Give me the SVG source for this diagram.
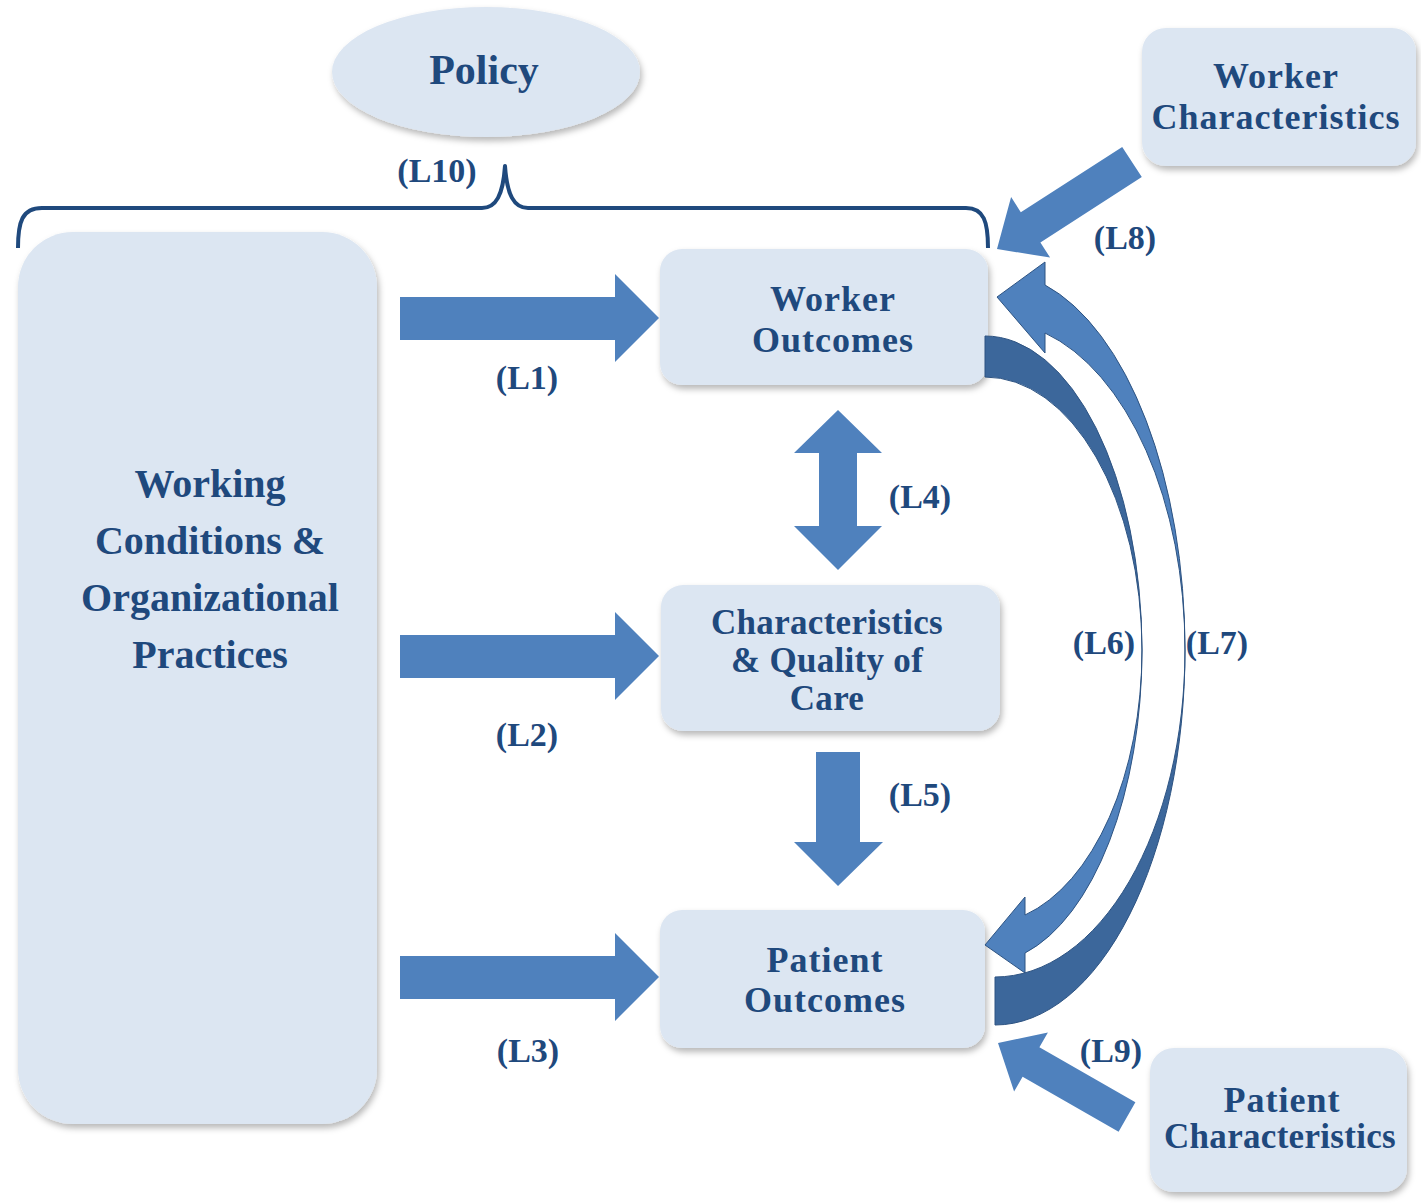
<svg xmlns="http://www.w3.org/2000/svg" width="1421" height="1203" viewBox="0 0 1421 1203">
<defs>
<filter id="sh" x="-10%" y="-10%" width="125%" height="125%">
<feDropShadow dx="2" dy="4" stdDeviation="3" flood-color="#000" flood-opacity="0.28"/>
</filter>
<style>
.box{fill:#dce6f2;filter:url(#sh);}
.t{font-family:"Liberation Serif","Times New Roman",serif;font-weight:bold;fill:#1f497d;text-anchor:middle;}
.n36{font-size:36px;letter-spacing:1px;}
.n35{font-size:35px;letter-spacing:0.3px;}
.n40{font-size:40px;}
.lbl{font-size:34px;}
.arr{fill:#4f81bd;}
.dark{fill:#3c679b;stroke:#2d5382;stroke-width:1;}
.light{fill:#4f81bd;stroke:#2d5382;stroke-width:1;}
.brace{fill:none;stroke:#1f497d;stroke-width:4;stroke-linejoin:round;}
</style>
</defs>
<rect width="1421" height="1203" fill="#ffffff"/>

<g id="policy">
<ellipse class="box" cx="486" cy="72" rx="154" ry="65"/>
<text class="t" x="484" y="84" font-size="42">Policy</text>
</g>

<g id="working-conditions">
<rect class="box" x="18" y="232" width="359" height="892" rx="55" ry="55"/>
<text class="t n40" x="210" y="497">Working</text>
<text class="t n40" x="210" y="554">Conditions &amp;</text>
<text class="t n40" x="210" y="611">Organizational</text>
<text class="t n40" x="210" y="668">Practices</text>
</g>

<g id="worker-outcomes">
<rect class="box" x="660" y="249" width="328" height="136" rx="22" ry="22"/>
<text class="t n36" x="833" y="311">Worker</text>
<text class="t n36" x="833" y="352">Outcomes</text>
</g>

<g id="care-quality">
<rect class="box" x="661" y="585" width="339" height="146" rx="22" ry="22"/>
<text class="t n35" x="827" y="634">Characteristics</text>
<text class="t n35" x="827" y="672">&amp; Quality of</text>
<text class="t n35" x="827" y="710">Care</text>
</g>

<g id="patient-outcomes">
<rect class="box" x="660" y="910" width="325" height="138" rx="22" ry="22"/>
<text class="t n36" x="825" y="972">Patient</text>
<text class="t n36" x="825" y="1012">Outcomes</text>
</g>

<g id="worker-characteristics">
<rect class="box" x="1142" y="28" width="274" height="138" rx="24" ry="24"/>
<text class="t n36" x="1276" y="88">Worker</text>
<text class="t n36" x="1276" y="129">Characteristics</text>
</g>

<g id="patient-characteristics">
<rect class="box" x="1150" y="1048" width="257" height="144" rx="24" ry="24"/>
<text class="t n36" x="1282" y="1112">Patient</text>
<text class="t n35" x="1280" y="1148">Characteristics</text>
</g>

<g id="connectors">
<path class="brace" d="M18,248 C18,222 22,208 42,208 L482,208 C496,208 503,195 505,166 C507,195 514,208 528,208 L966,208 C984,208 988,222 988,248"/>
<polygon class="arr" points="400,297 615,297 615,274 659,318 615,362 615,340 400,340"/>
<polygon class="arr" points="400,635 615,635 615,612 659,656 615,700 615,678 400,678"/>
<polygon class="arr" points="400,956 615,956 615,933 659,977 615,1021 615,999 400,999"/>
<polygon class="arr" points="838,410 882,453 857,453 857,526 882,526 838,570 794,526 819,526 819,453 794,453"/>
<polygon class="arr" points="816,752 860,752 860,842 883,842 838,886 794,842 816,842"/>
<polygon class="arr" points="1141.8,177.1 1040.4,242.4 1050.1,257.6 997,249 1011.1,197 1020.8,212.2 1122.2,146.9"/>
<polygon class="arr" points="1135.4,1102.2 1039.4,1047.2 1047.9,1032.5 998,1043 1014.1,1091.5 1022.6,1076.8 1118.6,1131.8"/>
<path class="dark" d="M985,336 A157,314 0 0 1 1142,650 A157,273 0 0 0 985,377 Z"/>
<path class="light" d="M1142,650 A157,313 0 0 1 1025,953 L1025,973 L985,945 L1025,897 L1025,915 A157,274 0 0 0 1142,650 Z"/>
<path class="dark" d="M1185,650 A190,375 0 0 1 995,1025 L995,977 A190,327 0 0 0 1185,650 Z"/>
<path class="light" d="M1185,650 A190,378 0 0 0 1045,285 L1045,262 L997,297 L1045,353 L1045,333 A190,328 0 0 1 1185,650 Z"/>
<text class="t lbl" x="437" y="182">(L10)</text>
<text class="t lbl" x="527" y="389">(L1)</text>
<text class="t lbl" x="527" y="746">(L2)</text>
<text class="t lbl" x="528" y="1062">(L3)</text>
<text class="t lbl" x="920" y="508">(L4)</text>
<text class="t lbl" x="920" y="806">(L5)</text>
<text class="t lbl" x="1104" y="654">(L6)</text>
<text class="t lbl" x="1217" y="654">(L7)</text>
<text class="t lbl" x="1125" y="249">(L8)</text>
<text class="t lbl" x="1111" y="1062">(L9)</text>
</g>
</svg>
